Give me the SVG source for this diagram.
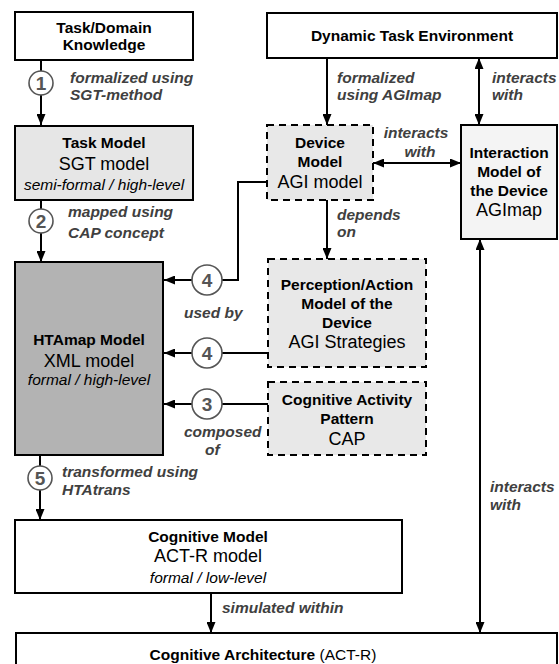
<svg xmlns="http://www.w3.org/2000/svg" width="559" height="664" viewBox="0 0 559 664">
<style>
text{font-family:"Liberation Sans",Arial,sans-serif;fill:#000}
.b{font-weight:bold;font-size:15.5px}
.r{font-size:18px}
.i{font-style:italic;font-size:15.5px}
.c{text-anchor:middle}
.lbl{font-weight:bold;font-style:italic;font-size:15.5px;fill:#404040}
.box{stroke:#000;stroke-width:2}
.dash{stroke:#000;stroke-width:2;stroke-dasharray:7,5}
.ln{stroke:#000;stroke-width:2;fill:none}
.num circle{fill:#fff;stroke:#555;stroke-width:1.6}
.num text{font-weight:bold;font-size:19px;fill:#555;text-anchor:middle}
</style>
<defs>
<marker id="ah" markerWidth="11" markerHeight="9" refX="11" refY="4.5" orient="auto-start-reverse" markerUnits="userSpaceOnUse">
<path d="M0,0 L11,4.5 L0,9 z" fill="#000"/>
</marker>
</defs>
<g id="connectors">
<line class="ln" x1="41" y1="60" x2="41" y2="125" marker-end="url(#ah)"/>
<line class="ln" x1="41" y1="200" x2="41" y2="262" marker-end="url(#ah)"/>
<line class="ln" x1="40" y1="455" x2="40" y2="520" marker-end="url(#ah)"/>
<line class="ln" x1="211" y1="593" x2="211" y2="633" marker-end="url(#ah)"/>
<line class="ln" x1="327" y1="58" x2="327" y2="125" marker-end="url(#ah)"/>
<line class="ln" x1="327" y1="200" x2="327" y2="259" marker-end="url(#ah)"/>
<line class="ln" x1="479" y1="58" x2="479" y2="125" marker-start="url(#ah)" marker-end="url(#ah)"/>
<line class="ln" x1="373" y1="163" x2="461" y2="163" marker-start="url(#ah)" marker-end="url(#ah)"/>
<line class="ln" x1="480" y1="239" x2="480" y2="633" marker-start="url(#ah)" marker-end="url(#ah)"/>
<polyline class="ln" points="222,280 238,280 238,182 267,182"/>
<line class="ln" x1="192" y1="280" x2="164" y2="280" marker-end="url(#ah)"/>
<line class="ln" x1="222" y1="353" x2="268" y2="353"/>
<line class="ln" x1="192" y1="353" x2="164" y2="353" marker-end="url(#ah)"/>
<line class="ln" x1="222" y1="404" x2="268" y2="404"/>
<line class="ln" x1="192" y1="404" x2="164" y2="404" marker-end="url(#ah)"/>
<g class="num"><circle cx="41" cy="83" r="12"/><text x="41" y="90">1</text></g>
<g class="num"><circle cx="41" cy="221" r="12"/><text x="41" y="228">2</text></g>
<g class="num"><circle cx="40" cy="478" r="12"/><text x="40" y="485">5</text></g>
<g class="num"><circle cx="207" cy="280" r="15"/><text x="207" y="287">4</text></g>
<g class="num"><circle cx="207" cy="353" r="15"/><text x="207" y="360">4</text></g>
<g class="num"><circle cx="207" cy="404" r="15"/><text x="207" y="411">3</text></g>
<text class="lbl" x="70" y="83">formalized using</text>
<text class="lbl" x="70" y="100">SGT-method</text>
<text class="lbl" x="68" y="217">mapped using</text>
<text class="lbl" x="68" y="238">CAP concept</text>
<text class="lbl" x="62" y="477">transformed using</text>
<text class="lbl" x="62" y="495">HTAtrans</text>
<text class="lbl" x="222" y="613">simulated within</text>
<text class="lbl" x="337" y="83">formalized</text>
<text class="lbl" x="337" y="100">using AGImap</text>
<text class="lbl" x="492" y="83">interacts</text>
<text class="lbl" x="492" y="100">with</text>
<text class="lbl c" x="416" y="138">interacts</text>
<text class="lbl c" x="420" y="157">with</text>
<text class="lbl" x="337" y="220">depends</text>
<text class="lbl" x="337" y="237">on</text>
<text class="lbl" x="184" y="318">used by</text>
<text class="lbl" x="184" y="437">composed</text>
<text class="lbl" x="205" y="455">of</text>
<text class="lbl" x="490" y="492">interacts</text>
<text class="lbl" x="490" y="510">with</text>
</g>
<g id="task-domain">
<rect class="box" x="15" y="12" width="178" height="48" fill="#fff"/>
<text class="b c" x="104" y="33">Task/Domain</text>
<text class="b c" x="104" y="50">Knowledge</text>
</g>
<g id="task-model">
<rect class="box" x="15" y="126" width="178" height="74" fill="#e6e6e6"/>
<text class="b c" x="104" y="148">Task Model</text>
<text class="r c" x="104" y="170">SGT model</text>
<text class="i c" x="104" y="190">semi-formal / high-level</text>
</g>
<g id="htamap">
<rect class="box" x="15" y="262" width="148" height="193" fill="#b3b3b3"/>
<text class="b c" x="89" y="345">HTAmap Model</text>
<text class="r c" x="89" y="367">XML model</text>
<text class="i c" x="89" y="385">formal / high-level</text>
</g>
<g id="cognitive-model">
<rect class="box" x="15" y="520" width="387" height="73" fill="#fff"/>
<text class="b c" x="208" y="542">Cognitive Model</text>
<text class="r c" x="208" y="562">ACT-R model</text>
<text class="i c" x="208" y="583">formal / low-level</text>
</g>
<g id="cognitive-architecture">
<rect class="box" x="16" y="633" width="541" height="48" fill="#fff"/>
<text class="c" x="263" y="660" style="font-size:15.5px"><tspan font-weight="bold">Cognitive Architecture</tspan> (ACT-R)</text>
</g>
<g id="dynamic-env">
<rect class="box" x="267" y="13" width="290" height="45" fill="#fff"/>
<text class="b c" x="412" y="41">Dynamic Task Environment</text>
</g>
<g id="device-model">
<rect class="dash" x="267" y="125" width="106" height="75" fill="#e8e8e8"/>
<text class="b c" x="320" y="148">Device</text>
<text class="b c" x="320" y="167">Model</text>
<text class="r c" x="320" y="188">AGI model</text>
</g>
<g id="interaction-model">
<rect class="box" x="461" y="125" width="96" height="114" fill="#f4f4f4"/>
<text class="b c" x="509" y="158">Interaction</text>
<text class="b c" x="509" y="177">Model of</text>
<text class="b c" x="509" y="196">the Device</text>
<text class="r c" x="509" y="216">AGImap</text>
</g>
<g id="perception-action">
<rect class="dash" x="268" y="259" width="158" height="108" fill="#e8e8e8"/>
<text class="b c" x="347" y="290">Perception/Action</text>
<text class="b c" x="347" y="309">Model of the</text>
<text class="b c" x="347" y="328">Device</text>
<text class="r c" x="347" y="348">AGI Strategies</text>
</g>
<g id="cap">
<rect class="dash" x="268" y="382" width="158" height="73" fill="#e8e8e8"/>
<text class="b c" x="347" y="405">Cognitive Activity</text>
<text class="b c" x="347" y="424">Pattern</text>
<text class="r c" x="347" y="445">CAP</text>
</g>
</svg>
